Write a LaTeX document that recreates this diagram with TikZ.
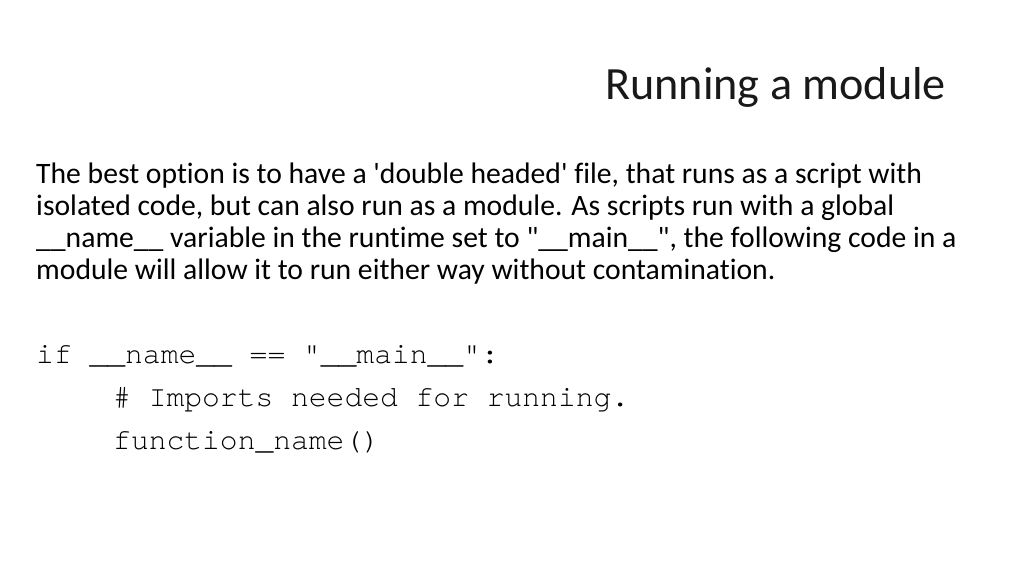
\documentclass[tikz,border=0pt]{standalone}
\usepackage{fontspec}
\setmainfont{Carlito}[Ligatures={NoCommon}]
\newfontfamily\lightfont{Carlito}[Ligatures={NoCommon}]
\setmonofont{TeX Gyre Cursor}
\usetikzlibrary{positioning}

\begin{document}
\begin{tikzpicture}[x=0.9375pt, y=-0.9375pt,
		slidetitle/.style = {anchor=base west, inner sep=0, font=\lightfont\fontsize{43.3}{52}\selectfont, text=black!90},
		bodyline/.style = {anchor=base west, inner sep=0, font=\fontsize{27.8}{33}\selectfont, text=black},
		codeline/.style = {anchor=base west, inner sep=0, font=\ttfamily\fontsize{27.8}{33}\selectfont, text=black}]
	\def\lx{36};
	\def\ix{113};

	\useasboundingbox (0,0) rectangle (1024,576);

	\node [slidetitle] (title) at (605,100) {Running a module};

	\node [bodyline] (lineA) at (\lx,183) {The best option is to have a \textquotesingle double headed\textquotesingle\ file, that runs as a script with};
	\node [bodyline] (lineB) at (\lx,215) {isolated code, but can also run as a module. As scripts run with a global};
	\node [bodyline] (lineC) at (\lx,247) {\_\_name\_\_ variable in the runtime set to \textquotedbl\_\_main\_\_\textquotedbl, the following code in a};
	\node [bodyline] (lineD) at (\lx,279) {module will allow it to run either way without contamination.};

	\begin{scope}[every node/.style = {codeline}]
		\node (codeIf) at (\lx,363) {if \_\_name\_\_ == \textquotedbl\_\_main\_\_\textquotedbl:};
		\node (codeComment) at (\ix,406) {\# Imports needed for running.};
		\node (codeCall) at (\ix,449) {function\_name()};
	\end{scope}
\end{tikzpicture}
\end{document}
